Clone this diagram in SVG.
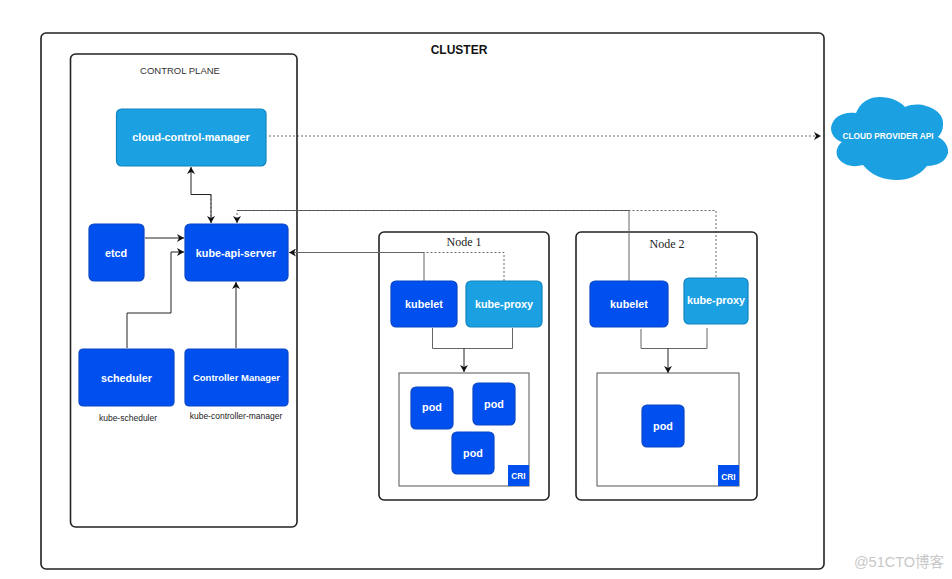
<svg xmlns="http://www.w3.org/2000/svg" width="952" height="579" viewBox="0 0 952 579">
<style>
.f{font-family:"Liberation Sans",Arial,sans-serif}
.c{fill:none;stroke:#222;stroke-width:1}
.g{fill:none;stroke:#666;stroke-width:1}
.d{fill:none;stroke:#444;stroke-width:.8;stroke-dasharray:2 2}
.b{fill:#0050ef;stroke:#0a47c4;stroke-width:1.2}
.l{fill:#1ba1e2;stroke:#1284bd;stroke-width:1.2}
.t{font-family:"Liberation Sans",Arial,sans-serif;font-weight:bold;font-size:10.800px;fill:#fff;text-anchor:middle}
.m{font-size:9.500px}
.x{font-size:8.300px}
.box{fill:#fff;stroke:#222;stroke-width:1.6}
.s{fill:none;stroke:#555;stroke-width:1}
.n{font-family:"Liberation Serif",serif;font-size:12px;fill:#222;text-anchor:middle}
.k{font-family:"Liberation Sans",Arial,sans-serif;font-size:8.500px;fill:#222;text-anchor:middle}
</style>
<defs>
<marker id="a" markerUnits="userSpaceOnUse" viewBox="0 0 8 8" refX="7" refY="4" markerWidth="8" markerHeight="8" orient="auto-start-reverse"><path d="M0 0L7 4L0 8L2 4Z" fill="#111"/></marker>
</defs>
<rect width="952" height="579" fill="#fff"/>
<g id="cluster"><rect class="box" x="41" y="33" width="783" height="536" rx="5"/><text class="f" x="459" y="54" font-size="12" font-weight="bold" fill="#111" text-anchor="middle">CLUSTER</text></g>
<g id="control-plane"><rect class="box" x="70.500" y="54" width="226.500" height="473" rx="5"/><text class="f" x="180" y="74" font-size="9.500" fill="#333" text-anchor="middle">CONTROL PLANE</text></g>
<g id="node-1"><rect class="box" x="379" y="232" width="170" height="268" rx="5"/><text class="n" x="464" y="246">Node 1</text></g>
<g id="node-2"><rect class="box" x="576" y="232" width="181" height="268" rx="5"/><text class="n" x="667" y="248">Node 2</text></g>
<g id="connectors">
<path class="d" d="M269 136H821" marker-end="url(#a)"/>
<path class="c" d="M191 167V194.500H211V223" marker-start="url(#a)"/>
<path class="d" d="M211 194.500V223" marker-end="url(#a)"/>
<path class="c" d="M145 238H184" marker-end="url(#a)"/>
<path class="c" d="M127 348V313H171V252H184" marker-end="url(#a)"/>
<path class="c" d="M236 348V282" marker-end="url(#a)"/>
<path class="g" d="M424 281V252.500H289" marker-end="url(#a)"/>
<path class="d" d="M504 281V252.500H424"/>
<path class="g" d="M629 281V210.500H237"/>
<path class="d" d="M716 277V210.500H237V223" marker-end="url(#a)"/>
<path class="g" d="M432.500 328V348.500H512.500V328"/>
<path class="c" d="M464 348.500V372" marker-end="url(#a)"/>
<path class="g" d="M641 329V348.500H707V328"/>
<path class="c" d="M668 348.500V373" marker-end="url(#a)"/>
</g>
<g id="cloud-control-manager"><rect class="l" x="116.500" y="109" width="149.500" height="57" rx="5"/><text class="t" x="191" y="141">cloud-control-manager</text></g>
<g id="etcd"><rect class="b" x="89" y="224" width="55" height="57" rx="5"/><text class="t" x="116" y="257">etcd</text></g>
<g id="kube-api-server"><rect class="b" x="185" y="224" width="103" height="57" rx="5"/><text class="t" x="236" y="257">kube-api-server</text></g>
<g id="scheduler"><rect class="b" x="79" y="349" width="95" height="57" rx="4"/><text class="t" x="126.500" y="382">scheduler</text></g>
<g id="controller-manager"><rect class="b" x="185" y="349" width="103" height="57" rx="4"/><text class="t m" x="236.500" y="381">Controller Manager</text></g>
<text class="k" x="128" y="421">kube-scheduler</text>
<text class="k" x="236" y="419">kube-controller-manager</text>
<g id="kubelet-1"><rect class="b" x="391" y="281" width="66" height="46" rx="5"/><text class="t" x="424" y="308">kubelet</text></g>
<g id="kube-proxy-1"><rect class="l" x="466" y="281" width="76" height="46" rx="5"/><text class="t" x="504" y="308">kube-proxy</text></g>
<g id="kubelet-2"><rect class="b" x="590" y="281" width="78" height="46" rx="5"/><text class="t" x="629" y="308">kubelet</text></g>
<g id="kube-proxy-2"><rect class="l" x="684" y="278" width="64" height="46" rx="5"/><text class="t" x="716" y="304">kube-proxy</text></g>
<g id="cri-box-1"><rect class="s" x="399" y="373" width="130" height="113"/></g>
<g id="cri-box-2"><rect class="s" x="597" y="373" width="142" height="113"/></g>
<g id="cri-1"><rect x="508" y="465" width="21" height="21" fill="#0050ef"/><text class="t x" x="518.500" y="479">CRI</text></g>
<g id="cri-2"><rect x="718" y="465" width="21" height="21" fill="#0050ef"/><text class="t x" x="728.500" y="480">CRI</text></g>
<g id="pod-1"><rect class="b" x="411" y="387" width="42" height="42" rx="5"/><text class="t" x="432" y="411">pod</text></g>
<g id="pod-2"><rect class="b" x="473" y="383" width="42" height="42" rx="5"/><text class="t" x="494" y="408">pod</text></g>
<g id="pod-3"><rect class="b" x="452" y="432" width="42" height="42" rx="5"/><text class="t" x="473" y="457">pod</text></g>
<g id="pod-4"><rect class="b" x="642" y="405" width="42" height="42" rx="5"/><text class="t" x="663" y="430">pod</text></g>
<g id="cloud-provider-api"><path d="M856 113C860 103 868 97 880 97C890 97 900 101 905 107C912 104 920 104 926 106C937 109 944 116 943 125C943 130 941 134 938 137C944 140 949 146 948 153C946 161 938 166 927 166C919 176 908 180 897 180C883 180 871 175 863 165C852 168 843 165 838 158C835 152 837 146 842 142C835 140 831 134 831 128C832 118 842 111 856 113Z" fill="#1ba1e2"/><text class="t x" x="888" y="139">CLOUD PROVIDER API</text></g>
<text x="899" y="567" font-family="'Liberation Sans','Noto Sans CJK SC',sans-serif" font-size="14.500" fill="#c8c8c8" text-anchor="middle">@51CTO博客</text>
</svg>
